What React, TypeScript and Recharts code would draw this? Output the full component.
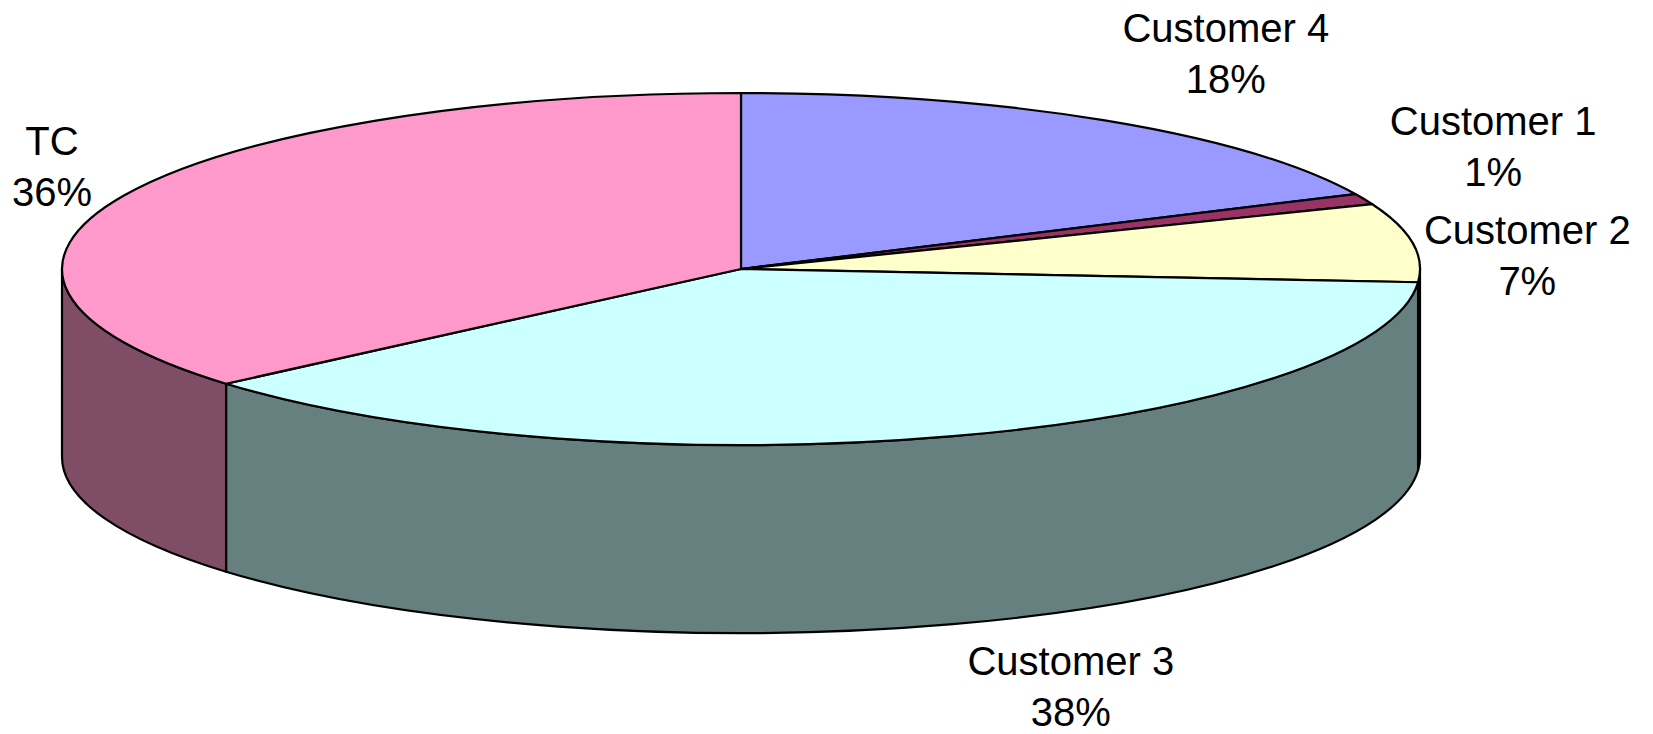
import React from 'react';
import { PieChart, Pie, Cell } from 'recharts';

// ---- data ----
const names = ['Customer 4', 'Customer 1', 'Customer 2', 'Customer 3', 'TC'];
const shares = [18, 1, 7.2, 37.5, 36.3];
const topColors = ['#9999FF', '#993366', '#FFFFCC', '#CCFFFF', '#FF99CC'];

const data = names.map((name, i) => ({ name, value: shares[i] }));

// ---- layout ----
const W = 1653;
const H = 734;
const CX = 741;
const CY = 269;
const RX = 679;
const TILT = 176 / 679;
const DEPTH = 188;
const FONT = '"Liberation Sans", Arial, sans-serif';
const FONT_SIZE = 40;
const LINE_GAP = 51;

// label anchor nudges relative to the rim point at each slice's mid angle
const LABEL_NUDGE: Record<string, [number, number]> = {
  'Customer 4': [121, -78],
  'Customer 1': [129, -64],
  'Customer 2': [115, 1],
  'Customer 3': [118, 51],
  TC: [-72, -41],
};

const RAD = Math.PI / 180;
const pt = (cx: number, cy: number, rx: number, ry: number, a: number) =>
  [cx + rx * Math.cos(a * RAD), cy - ry * Math.sin(a * RAD)] as [number, number];

function darken(hex: string, f = 0.5) {
  const n = parseInt(hex.slice(1), 16);
  const r = Math.round(((n >> 16) & 255) * f);
  const g = Math.round(((n >> 8) & 255) * f);
  const b = Math.round((n & 255) * f);
  return `rgb(${r},${g},${b})`;
}

function Slice3D(props: any) {
  const { cx, cy, outerRadius, startAngle, endAngle, fill } = props;
  const rx = outerRadius;
  const ry = outerRadius * TILT;
  const s = Math.max(startAngle, endAngle);
  const e = Math.min(startAngle, endAngle);
  const p1 = pt(cx, cy, rx, ry, s);
  const p2 = pt(cx, cy, rx, ry, e);
  const large = s - e > 180 ? 1 : 0;
  const top = `M${cx},${cy} L${p1[0]},${p1[1]} A${rx},${ry} 0 ${large} 1 ${p2[0]},${p2[1]} Z`;

  // front wall: angles between -180 and 0
  const a1 = Math.min(s, 0);
  const a2 = Math.max(e, -180);
  let wall: string | null = null;
  if (a1 > a2) {
    const t1 = pt(cx, cy, rx, ry, a1);
    const t2 = pt(cx, cy, rx, ry, a2);
    wall = `M${t1[0]},${t1[1]} A${rx},${ry} 0 0 1 ${t2[0]},${t2[1]} L${t2[0]},${t2[1] + DEPTH} A${rx},${ry} 0 0 0 ${t1[0]},${t1[1] + DEPTH} Z`;
  }
  return (
    <g>
      {wall && <path d={wall} fill={darken(fill)} stroke="#000" strokeWidth={2.2} strokeLinejoin="round" />}
      <path d={top} fill={fill} stroke="#000" strokeWidth={2.2} strokeLinejoin="round" />
    </g>
  );
}

function renderLabel(props: any) {
  const { cx, cy, outerRadius, midAngle, name, percent } = props;
  const rx = outerRadius;
  const ry = outerRadius * TILT;
  const [bx, by0] = pt(cx, cy, rx, ry, midAngle);
  const by = Math.sin(midAngle * RAD) < 0 ? by0 + DEPTH : by0;
  const nudge = LABEL_NUDGE[name] || [0, 0];
  const x = bx + nudge[0];
  const y = by + nudge[1];
  return (
    <text x={x} y={y} textAnchor="middle" fill="#000" fontFamily={FONT} fontSize={FONT_SIZE}>
      <tspan x={x} y={y}>{name}</tspan>
      <tspan x={x} y={y + LINE_GAP}>{`${Math.round(percent * 100)}%`}</tspan>
    </text>
  );
}

export default function App() {
  return (
    <div style={{ position: 'fixed', left: 0, top: 0, width: W, height: H, background: '#fff' }}>
      <PieChart width={W} height={H} margin={{ top: 0, right: 0, bottom: 0, left: 0 }}>
        <Pie
          data={data}
          dataKey="value"
          nameKey="name"
          cx={CX}
          cy={CY}
          outerRadius={RX}
          startAngle={90}
          endAngle={-270}
          stroke="#000"
          shape={Slice3D}
          inactiveShape={Slice3D}
          label={renderLabel}
          labelLine={false}
          isAnimationActive={false}
        >
          {data.map((d, i) => (
            <Cell key={d.name} fill={topColors[i]} />
          ))}
        </Pie>
      </PieChart>
    </div>
  );
}
